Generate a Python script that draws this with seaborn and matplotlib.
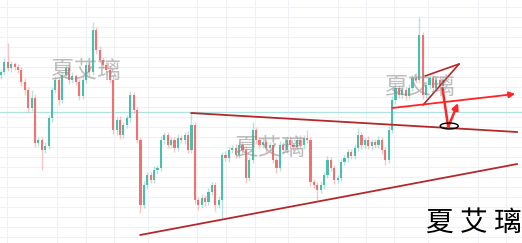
import numpy as np
import pandas as pd
import matplotlib
matplotlib.use("Agg")
import matplotlib.pyplot as plt
from matplotlib.patches import Ellipse
import seaborn as sns

# ---------------- data ----------------
open0 = 168
closes = [171,181,175,179,176,173,161,153,135,145,
          100,103,93,97,125,153,163,143,168,175,
          163,167,161,147,163,178,171,213,193,183,
          178,173,163,113,123,108,118,125,148,133,
          103,38,58,68,63,73,75,103,108,98,
          103,95,105,103,108,93,118,43,38,45,
          41,51,58,38,43,88,85,93,95,88,
          98,93,65,83,113,103,98,101,95,98,
          83,75,98,93,103,98,96,103,98,105,
          103,61,58,53,58,68,83,75,63,65,
          81,85,91,87,95,108,98,103,97,101,
          98,103,93,83,113,143,155,148,153,147,
          155,165,163,208,148,158,165,155,163,157,
          163]
upper_wick = [3,4,19,3,2,3,3,4,3,8,
              4,3,3,4,3,3,4,3,4,3,
              3,4,2,3,4,3,4,8,3,4,
              3,3,4,5,3,4,3,3,4,3,
              3,3,4,3,3,4,3,4,3,3,
              3,3,4,3,3,4,13,3,3,4,
              3,4,3,3,4,3,4,3,3,4,
              3,3,4,3,8,3,3,4,3,3,
              3,3,4,3,3,4,3,4,5,3,
              8,3,3,3,4,3,4,3,3,3,
              3,4,3,3,4,7,3,3,4,3,
              3,4,3,3,4,4,5,3,4,3,
              4,3,5,18,3,4,3,4,3,4,
              3]
lower_wick = [4,3,3,4,3,3,4,5,4,3,
              4,3,20,3,3,4,3,5,3,3,
              4,3,3,4,3,3,4,3,4,3,
              3,4,3,4,5,4,3,3,4,3,
              3,8,3,4,3,3,4,3,4,3,
              3,4,3,3,4,3,3,4,5,3,
              4,3,3,6,3,18,3,4,3,3,
              3,4,5,3,3,4,3,3,4,3,
              3,5,3,4,3,3,4,3,3,4,
              3,4,3,10,3,4,3,3,4,3,
              3,3,4,3,3,3,4,3,3,4,
              3,3,4,5,3,3,4,3,3,4,
              3,3,3,3,4,3,4,3,3,4,
              3]

# drawn annotations (bar index, price)
upper_trend_x = [55.9, 151.8]
upper_trend_y = [130, 111]
lower_trend_x = [40.9, 151.8]
lower_trend_y = [8, 79]
wedge_low_x = [124.1, 134.7]
wedge_low_y = [138, 179]
wedge_high_x = [124.7, 134.7]
wedge_high_y = [167, 179]
breakout_x = [115.0, 151.2]
breakout_y = [135, 149]
path_x = [129.8, 131.5, 134.4]
path_y = [155, 116, 140]
ring_xy = (131.8, 117)
level_price = 131
vgrid_idx = [1.8, 16.5, 25.0, 33.2, 43.2, 57.6, 66.2, 74.7, 84.4, 99.1,
             107.4, 115.6, 125.6, 140.3, 148.5]
watermark = "夏艾璃"
watermark_pos = [(25.0, 172), (79.0, 95), (123.0, 156)]
signature = "夏 艾 璃"

# ---------------- build table ----------------
n = len(closes)
opens = [open0] + closes[:-1]
df = pd.DataFrame({"i": np.arange(n), "open": opens, "close": closes})
df["top"] = df[["open", "close"]].max(axis=1)
df["bot"] = df[["open", "close"]].min(axis=1)
df["high"] = df["top"] + np.array(upper_wick)
df["low"] = df["bot"] - np.array(lower_wick)
df["up"] = df["close"] >= df["open"]

sns.set_theme(style="white")
plt.rcParams["font.family"] = ["Noto Sans CJK SC", "DejaVu Sans"]

fig = plt.figure(figsize=(5.22, 2.43), dpi=100)
ax = fig.add_axes([0, 0, 1, 1])
ax.set_xlim(-0.3, 153.2)
ax.set_ylim(0, 243)

ax.set_xticks(vgrid_idx)
ax.set_yticks(np.arange(6, 243, 10))
ax.grid(True, color="#eef2f6", lw=0.8)
ax.tick_params(left=False, bottom=False, labelleft=False, labelbottom=False)
for s in ax.spines.values():
    s.set_visible(False)

ax.axhline(level_price, color="#aee3df", lw=0.9, zorder=1)

up_c, dn_c = "#4cbfac", "#f27272"
colors = np.where(df["up"], up_c, dn_c)
ax.vlines(df["i"], df["low"], df["high"], colors=colors, lw=1.0, alpha=0.4, zorder=2)
ax.bar(df["i"], (df["top"] - df["bot"]).clip(lower=0.8), bottom=df["bot"],
       width=0.62, color=colors, edgecolor="none", zorder=3)

dark = "#b3292b"
ax.plot(upper_trend_x, upper_trend_y, color=dark, lw=1.3, zorder=4)
ax.plot(lower_trend_x, lower_trend_y, color=dark, lw=1.3, zorder=4)
ax.plot(wedge_low_x, wedge_low_y, color=dark, lw=1.2, zorder=4)
ax.plot(wedge_high_x, wedge_high_y, color=dark, lw=1.2, zorder=4)

red = "#ff2424"
ax.annotate("", xy=(breakout_x[1], breakout_y[1]), xytext=(breakout_x[0], breakout_y[0]),
            arrowprops=dict(arrowstyle="-|>", color=red, lw=1.3, mutation_scale=9,
                            shrinkA=0, shrinkB=0), zorder=5)
ax.plot(path_x[:2], path_y[:2], color=red, lw=1.8, zorder=5)
ax.annotate("", xy=(path_x[2], path_y[2]), xytext=(path_x[1], path_y[1]),
            arrowprops=dict(arrowstyle="-|>", color=red, lw=1.8, mutation_scale=9,
                            shrinkA=0, shrinkB=0), zorder=5)
ax.add_patch(Ellipse(ring_xy, width=5.3, height=6, fill=False, ec="black", lw=1.0, zorder=6))

for (x, y) in watermark_pos:
    ax.text(x, y, watermark, fontsize=17, color="#8a8a8a", alpha=0.55,
            ha="center", va="center", zorder=7)

ax.text(139.0, 20, signature, fontsize=20, color="black", fontweight=300,
        ha="center", va="center", zorder=8)

fig.savefig("out.png", dpi=100)
